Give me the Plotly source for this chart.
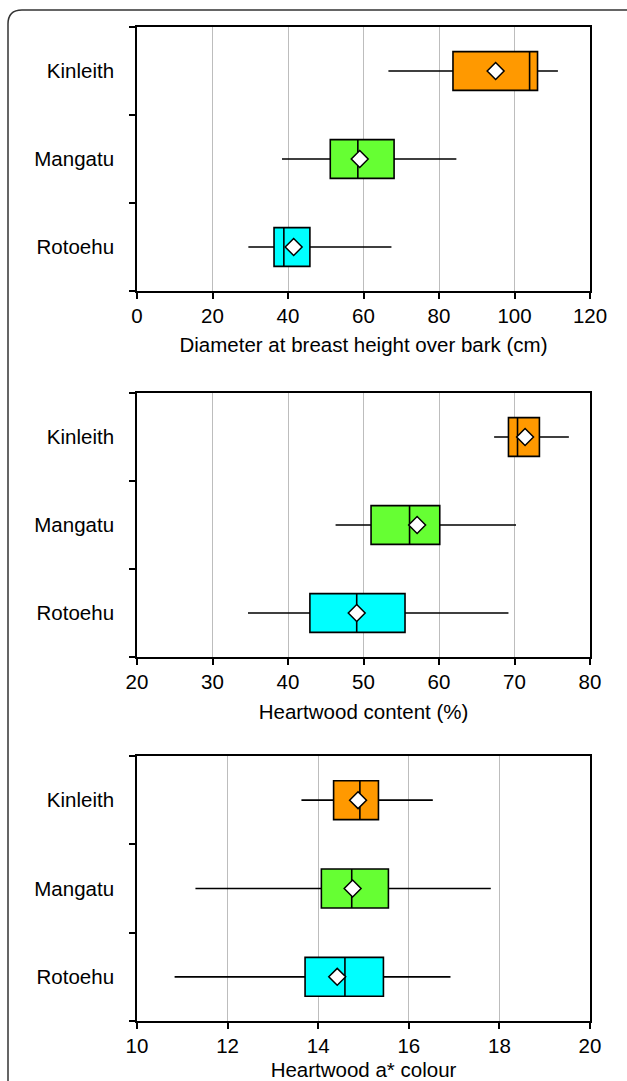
import plotly.graph_objects as go

sites = ["Kinleith", "Mangatu", "Rotoehu"]
box_colors = ["#FF9900", "#66FF33", "#00FFFF"]

# Diameter at breast height over bark (cm)
dbh_low = [66.6, 38.4, 29.5]
dbh_q1 = [83.7, 51.2, 36.3]
dbh_median = [104.0, 58.5, 38.9]
dbh_q3 = [106.1, 68.1, 45.8]
dbh_high = [111.5, 84.6, 67.4]
dbh_mean = [95.0, 59.0, 41.5]

# Heartwood content (%)
hw_low = [67.3, 46.3, 34.7]
hw_q1 = [69.2, 51.0, 42.9]
hw_median = [70.4, 56.1, 49.1]
hw_q3 = [73.3, 60.1, 55.5]
hw_high = [77.2, 70.2, 69.2]
hw_mean = [71.4, 57.1, 49.1]

# Heartwood a* colour
col_low = [13.63, 11.29, 10.83]
col_q1 = [14.34, 14.07, 13.71]
col_median = [14.92, 14.74, 14.59]
col_q3 = [15.33, 15.55, 15.44]
col_high = [16.53, 17.81, 16.92]
col_mean = [14.88, 14.76, 14.42]

x_titles = ["Diameter at breast height over bark (cm)",
            "Heartwood content (%)",
            "Heartwood a* colour"]
x_ranges = [[0, 120], [20, 80], [10, 20]]
x_dticks = [20, 10, 2]
title_standoffs = [11, 12, 7]

panels = [
    (dbh_low, dbh_q1, dbh_median, dbh_q3, dbh_high, dbh_mean),
    (hw_low, hw_q1, hw_median, hw_q3, hw_high, hw_mean),
    (col_low, col_q1, col_median, col_q3, col_high, col_mean),
]

W, H = 627, 1081
x_dom = [137 / W, 590 / W]
y_doms = [[1 - 291 / H, 1 - 27 / H],
          [1 - 657 / H, 1 - 393 / H],
          [1 - 1021 / H, 1 - 756 / H]]

FONT = "Liberation Sans, Arial, Helvetica, sans-serif"
FS = 20.5

fig = go.Figure()
layout = dict(
    template="none",
    width=W, height=H,
    margin=dict(l=0, r=0, t=0, b=0, pad=0),
    paper_bgcolor="white", plot_bgcolor="white",
    showlegend=False,
    font=dict(family=FONT, size=FS, color="black"),
)

for p, (lo, q1, med, q3, hi, mn) in enumerate(panels):
    suffix = "" if p == 0 else str(p + 1)
    xa, ya = "x" + suffix, "y" + suffix
    for i, s in enumerate(sites):
        fig.add_trace(go.Box(
            y=[s], q1=[q1[i]], median=[med[i]], q3=[q3[i]],
            lowerfence=[lo[i]], upperfence=[hi[i]],
            orientation="h", width=0.44, whiskerwidth=0,
            fillcolor=box_colors[i],
            line=dict(color="black", width=1.6),
            boxpoints=False,
            xaxis=xa, yaxis=ya, hoverinfo="skip",
        ))
    fig.add_trace(go.Scatter(
        x=mn, y=sites, mode="markers",
        marker=dict(symbol="diamond", size=13, color="white",
                    line=dict(color="black", width=1.5)),
        xaxis=xa, yaxis=ya, hoverinfo="skip",
    ))
    layout["xaxis" + suffix] = dict(
        domain=x_dom, anchor=ya, range=x_ranges[p], dtick=x_dticks[p],
        tick0=x_ranges[p][0], automargin=False,
        showgrid=True, gridcolor="#BDBDBD", gridwidth=1.3,
        showline=True, mirror=True, linecolor="black", linewidth=1.7,
        ticks="outside", ticklen=6, tickwidth=1.5, tickcolor="black",
        zeroline=False,
        title=dict(text=x_titles[p], standoff=title_standoffs[p],
                   font=dict(family=FONT, size=FS)),
        tickfont=dict(family=FONT, size=FS),
    )
    layout["yaxis" + suffix] = dict(
        domain=y_doms[p], anchor=xa, type="category",
        categoryorder="array", categoryarray=sites[::-1],
        range=[-0.5, 2.5], automargin=False,
        showgrid=False, zeroline=False,
        showline=True, mirror=True, linecolor="black", linewidth=1.7,
        ticks="outside", tickson="boundaries", ticklen=6, tickwidth=1.5,
        tickcolor="black", ticklabelstandoff=17,
        tickfont=dict(family=FONT, size=FS),
    )

# outer rounded frame (partially visible)
layout["shapes"] = [dict(
    type="path", xref="paper", yref="paper",
    path=("M {x0},{yb} L {x0},{yc} Q {x0},{yt} {xc},{yt} L {xr},{yt}").format(
        x0=8 / W, yb=-0.05, yc=1 - 24 / H, yt=1 - 10 / H, xc=22 / W, xr=1.05),
    line=dict(color="#333333", width=1.5),
)]

fig.update_layout(**layout)
fig.write_html("out.html", config={"displayModeBar": False},
               post_script="document.body.style.margin='0';document.body.style.overflow='hidden';")
